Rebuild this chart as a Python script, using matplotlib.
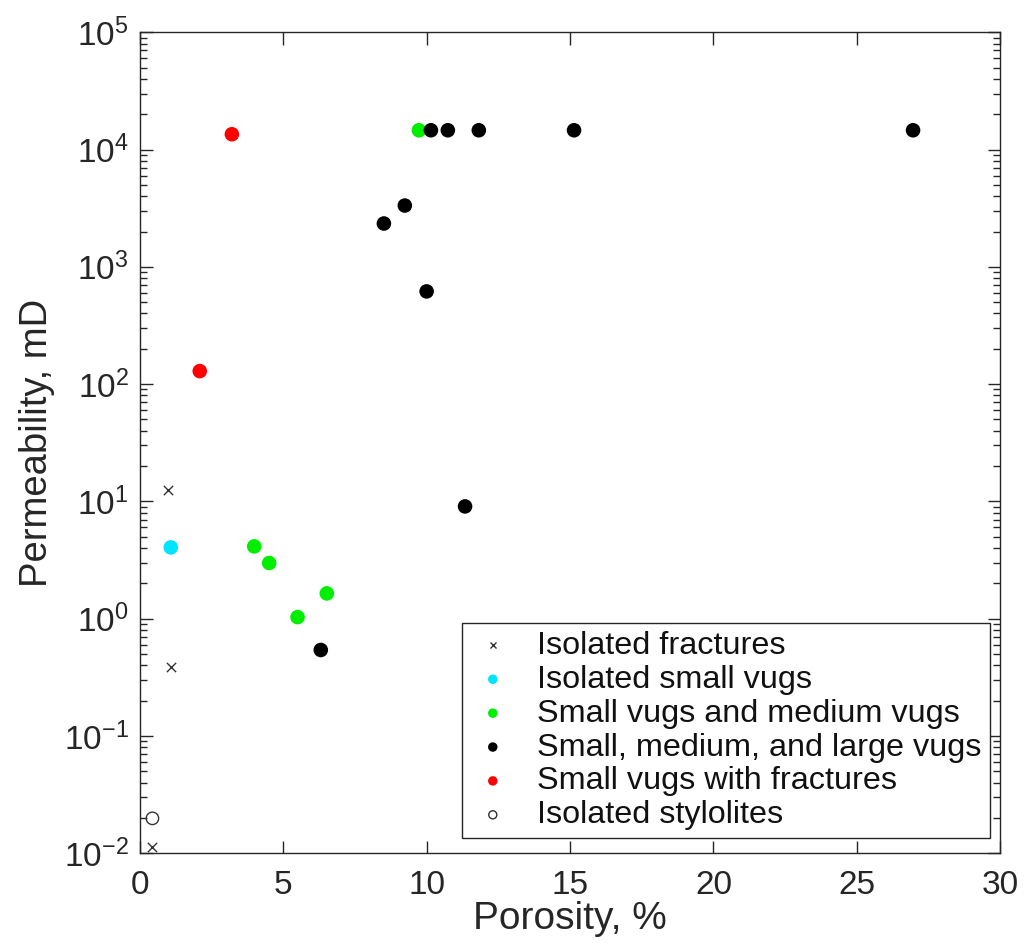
import matplotlib.pyplot as plt
from matplotlib.ticker import LogLocator, NullFormatter

plt.rcParams["font.family"] = ["Liberation Sans", "DejaVu Sans"]

OUT_PNG = "out.png"
TXT = "#262626"

# porosity (%) / permeability (mD) per group
frac_phi = [0.99, 1.08, 0.44]
frac_k = [12.5, 0.39, 0.0112]
small_phi = [1.08]
small_k = [4.05]
med_phi = [3.99, 4.51, 5.50, 6.52, 9.73]
med_k = [4.13, 2.98, 1.03, 1.64, 14600]
large_phi = [6.31, 8.51, 9.24, 10.0, 11.34, 10.15, 10.74, 11.82, 15.14, 26.96]
large_k = [0.54, 2340, 3330, 617, 9.05, 14600, 14600, 14600, 14600, 14600]
fvug_phi = [2.09, 3.21]
fvug_k = [129, 13500]
styl_phi = [0.44]
styl_k = [0.0198]

fig = plt.figure(figsize=(10.28, 9.49), dpi=100)
ax = fig.add_axes([0.136, 0.101, 0.837, 0.865])

ax.scatter(frac_phi, frac_k, marker="x", s=45, color="#333333", linewidths=1.0,
           label="Isolated fractures", zorder=3)
ax.scatter(small_phi, small_k, marker="o", s=110, color="#00e5ff", edgecolors="none",
           label="Isolated small vugs", zorder=3)
ax.scatter(med_phi, med_k, marker="o", s=110, color="#00ee00", edgecolors="none",
           label="Small vugs and medium vugs", zorder=3)
ax.scatter(large_phi, large_k, marker="o", s=110, color="black", edgecolors="none",
           label="Small, medium, and large vugs", zorder=3)
ax.scatter(fvug_phi, fvug_k, marker="o", s=110, color="#ff0000", edgecolors="none",
           label="Small vugs with fractures", zorder=3)
ax.scatter(styl_phi, styl_k, marker="o", s=80, facecolors="none", edgecolors="#333333",
           linewidths=1.0, label="Isolated stylolites", zorder=3)

ax.set_yscale("log")
ax.set_xlim(0, 30)
ax.set_ylim(1e-2, 1e5)
ax.set_xticks([0, 5, 10, 15, 20, 25, 30])
ax.yaxis.set_major_locator(LogLocator(base=10, numticks=10))
ax.yaxis.set_minor_locator(LogLocator(base=10, subs=range(2, 10), numticks=20))
ax.yaxis.set_minor_formatter(NullFormatter())

ax.tick_params(which="both", direction="in", top=True, right=True, colors=TXT,
               labelsize=24, width=1.0)
ax.tick_params(which="major", length=9)
ax.tick_params(axis="x", which="major", pad=12)
ax.tick_params(axis="y", which="major", pad=8)
ax.tick_params(which="minor", length=5)
for sp in ax.spines.values():
    sp.set_color(TXT)
    sp.set_linewidth(1.0)

ax.set_xlabel("Porosity, %", fontsize=28, color=TXT, labelpad=0)
ax.set_ylabel("Permeability, mD", fontsize=27.5, color=TXT, labelpad=6)

leg = ax.legend(loc="lower right", bbox_to_anchor=(0.988, 0.018), fontsize=23.3,
                markerscale=0.65, fancybox=False, framealpha=1, edgecolor=TXT,
                handletextpad=0.68, borderpad=0.25, labelspacing=0.12, handlelength=1.4,
                borderaxespad=0)
leg.get_frame().set_linewidth(1.0)
for t in leg.get_texts():
    t.set_color("#111111")

plt.savefig(OUT_PNG, dpi=100)
print(f"Saved {OUT_PNG}")
